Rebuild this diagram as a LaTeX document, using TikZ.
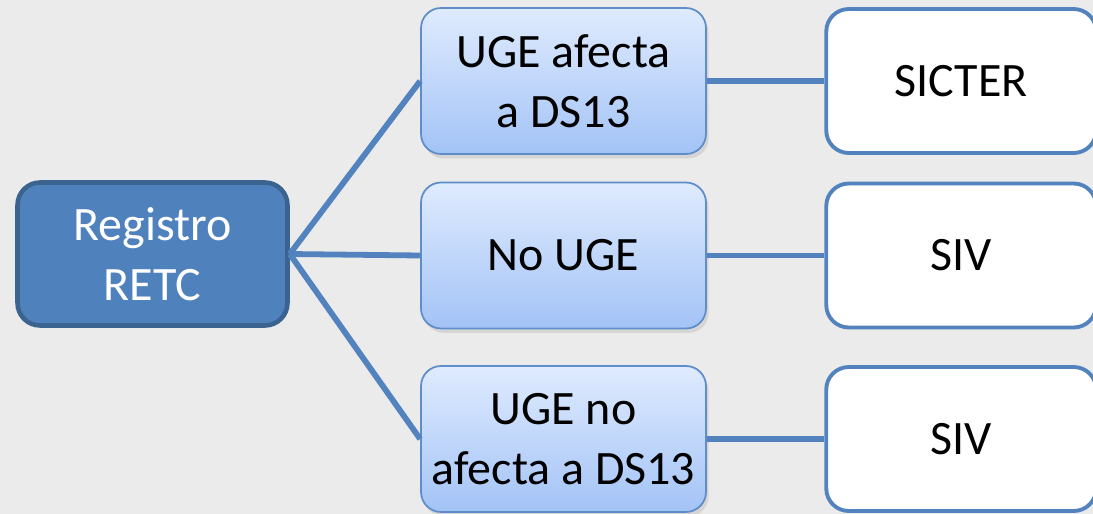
\documentclass[tikz,border=0pt]{standalone}
\usepackage{fontspec}
\setmainfont{Carlito}
\usetikzlibrary{positioning,shadows}

\definecolor{bgray}{HTML}{EBEBEB}
\definecolor{rootfill}{HTML}{4F81BD}
\definecolor{rootline}{HTML}{3B6390}
\definecolor{linkblue}{HTML}{5383BE}
\definecolor{midtop}{HTML}{DFEBFE}
\definecolor{midbot}{HTML}{A3C3F6}
\definecolor{midline}{HTML}{5E8DC9}

\tikzset{
  rootbox/.style={draw=rootline, line width=2.6pt, fill=rootfill, text=white,
    rounded corners=0.45cm, minimum width=5.4cm, minimum height=2.86cm,
    align=center, font=\fontsize{27.3}{34}\selectfont},
  midbox/.style={draw=midline, line width=1pt, top color=midtop, bottom color=midbot,
    rounded corners=0.4cm, minimum width=5.7cm, minimum height=2.92cm,
    align=center, font=\fontsize{27.3}{34}\selectfont,
    drop shadow={opacity=0.2, shadow xshift=1.5pt, shadow yshift=-2.5pt}},
  leafbox/.style={draw=linkblue, line width=2.2pt, fill=white,
    rounded corners=0.45cm, minimum width=5.4cm, minimum height=2.88cm,
    align=center, font=\fontsize{27.3}{34}\selectfont},
  link/.style={draw=linkblue, line width=3.3pt}
}

\begin{document}
\begin{tikzpicture}[x=0.02cm, y=-0.02cm]
        \fill[bgray] (0,0) rectangle (1093,514);
        \useasboundingbox (0,0) rectangle (1093,514);

        % first column
        \node[rootbox] (root) at (152.5,254) {Registro\\RETC};

        % second column
        \node[midbox] (m1) at (563.5,81) {UGE afecta\\a DS13};
        \node[midbox] (m2) at (563.5,255.5) {No UGE};
        \node[midbox] (m3) at (563.5,439) {UGE no\\afecta a DS13};

        % third column
        \node[leafbox, right=2.35cm of m1] (r1) {SICTER};
        \node[leafbox, right=2.35cm of m2] (r2) {SIV};
        \node[leafbox, right=2.35cm of m3] (r3) {SIV};

        \draw[link] (root.east) -- (m1.west);
        \draw[link] (root.east) -- (m2.west);
        \draw[link] (root.east) -- (m3.west);
        \draw[link] (m1.east) -- (r1.west);
        \draw[link] (m2.east) -- (r2.west);
        \draw[link] (m3.east) -- (r3.west);
\end{tikzpicture}
\end{document}
